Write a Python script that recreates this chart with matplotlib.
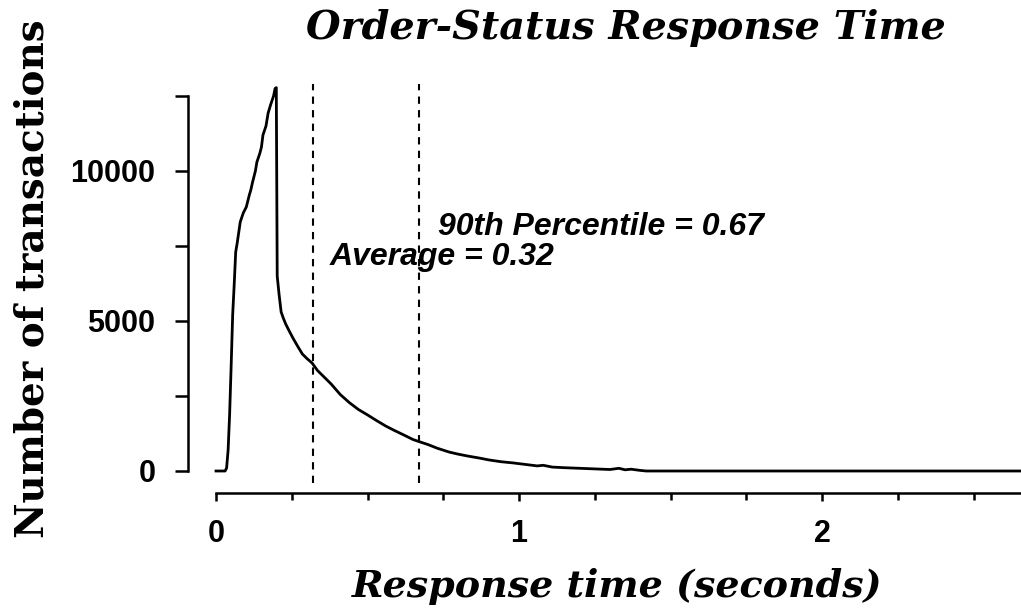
import matplotlib
matplotlib.use('Agg')
import matplotlib.pyplot as plt

# response time histogram (seconds, number of transactions)
times = [0.00, 0.03, 0.035, 0.04, 0.045, 0.05, 0.055, 0.06, 0.065, 0.07,
         0.08, 0.09, 0.10, 0.11, 0.115, 0.12, 0.13, 0.135, 0.145, 0.15,
         0.155, 0.165, 0.172, 0.18, 0.19, 0.195, 0.199, 0.202, 0.208, 0.215,
         0.222, 0.23, 0.24, 0.254, 0.27, 0.285, 0.30, 0.317, 0.335, 0.35,
         0.38, 0.41, 0.44, 0.47, 0.50, 0.53, 0.56, 0.585, 0.62, 0.65,
         0.673, 0.70, 0.73, 0.77, 0.80, 0.83, 0.87, 0.90, 0.94, 0.98,
         1.02, 1.06, 1.08, 1.11, 1.15, 1.20, 1.25, 1.30, 1.33, 1.35,
         1.37, 1.40, 1.42, 2.66]
counts = [0, 0, 100, 700, 1900, 3500, 5200, 6200, 7300, 7600,
          8300, 8600, 8800, 9200, 9370, 9600, 10000, 10300, 10600, 10800,
          11200, 11500, 11930, 12200, 12500, 12750, 12780, 6500, 5900, 5300,
          5100, 4900, 4700, 4430, 4150, 3900, 3750, 3600, 3350, 3200,
          2900, 2550, 2280, 2050, 1870, 1680, 1500, 1370, 1200, 1050,
          970, 880, 760, 630, 560, 500, 430, 370, 310, 270,
          220, 170, 190, 130, 110, 90, 70, 50, 90, 40,
          60, 20, 0, 0]

avg_time = 0.32
p90_time = 0.67

fig = plt.figure(figsize=(10.21, 6.13), dpi=100)
ax = fig.add_axes([188 / 1021, (613 - 483) / 613, 1 - 188 / 1021, (483 - 84) / 613])

ax.plot(times, counts, color='black', linewidth=2.0)
ax.axvline(avg_time, color='black', linestyle=(0, (3.5, 3)), linewidth=1.5)
ax.axvline(p90_time, color='black', linestyle=(0, (3.5, 3)), linewidth=1.5)

ax.set_xlim(-28 / 303, 805 / 303)
ax.set_ylim(-400, 12900)

ann = dict(fontsize=23, fontweight='bold', fontstyle='italic', family='Liberation Sans', va='baseline')
ax.text(0.733, 7870, '90th Percentile = 0.67', **ann)
ax.text(0.376, 6870, 'Average = 0.32', **ann)

for s in ['top', 'right']:
    ax.spines[s].set_visible(False)
ax.spines['left'].set_bounds(0, 12500)
ax.spines['bottom'].set_position(('data', -730))
ax.spines['bottom'].set_bounds(0, 2.66)
ax.spines['left'].set_linewidth(1.8)
ax.spines['bottom'].set_linewidth(1.8)

ax.set_yticks([0, 5000, 10000])
ax.set_yticks([2500, 7500, 12500], minor=True)
ax.set_xticks([0, 1, 2])
ax.set_xticks([0.25, 0.5, 0.75, 1.25, 1.5, 1.75, 2.25, 2.5], minor=True)
ax.tick_params(axis='y', which='both', direction='out', length=9.4, width=1.8, pad=14)
ax.tick_params(axis='x', which='major', direction='out', length=6, width=1.8, pad=13)
ax.tick_params(axis='x', which='minor', direction='out', length=5, width=1.8)
for lab in ax.get_xticklabels() + ax.get_yticklabels():
    lab.set_fontsize(22)
    lab.set_fontweight('bold')
    lab.set_family('Liberation Sans')

serif = dict(fontweight='bold', fontstyle='italic', family='DejaVu Serif')
fig.text(626 / 1021, 1 - 39 / 613, 'Order-Status Response Time', ha='center', va='baseline',
         fontsize=28.6, **serif)
fig.text(617 / 1021, 1 - 597 / 613, 'Response time (seconds)', ha='center', va='baseline',
         fontsize=27.4, **serif)
fig.text(33 / 1021, 1 - 279 / 613, 'Number of transactions', ha='center', va='center', rotation=90,
         fontsize=28, fontweight='bold', family='DejaVu Serif')

fig.savefig('out.png', dpi=100)
